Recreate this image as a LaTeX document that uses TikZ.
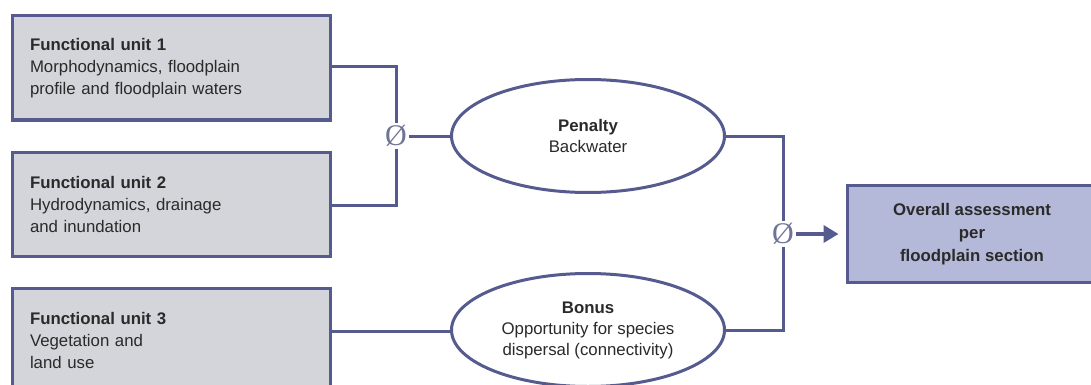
\documentclass[tikz,border=0pt]{standalone}
\usepackage{fontspec}
\setmainfont{Liberation Sans}
\newfontfamily\avgfont{Liberation Serif}
\usetikzlibrary{arrows.meta,shapes.geometric}
\definecolor{edge}{HTML}{555B8E}
\definecolor{boxfill}{HTML}{D4D5DA}
\definecolor{mainfill}{HTML}{B5B9D9}
\definecolor{txt}{HTML}{2A2A2A}
\definecolor{avg}{HTML}{6F7497}
\tikzset{
  unitbox/.style={draw=edge, line width=3pt, fill=boxfill, rectangle, minimum width=318pt, minimum height=104pt, text width=282pt, align=left, inner xsep=18pt, font=\fontsize{16.8}{22}\selectfont, text=txt},
  judge/.style={draw=edge, line width=3pt, fill=white, ellipse, minimum width=273pt, minimum height=113pt, align=center, font=\fontsize{16.8}{21}\selectfont, text=txt},
  mainbox/.style={draw=edge, line width=3pt, fill=mainfill, rectangle, minimum width=250pt, minimum height=97pt, align=center, font=\bfseries\fontsize{16.8}{23}\selectfont, text=txt},
  avgsym/.style={font=\avgfont\fontsize{30}{30}\selectfont, text=avg, inner sep=2pt},
  link/.style={draw=edge, line width=3pt},
}
\begin{document}
\begin{tikzpicture}[x=1pt,y=-1pt]
\useasboundingbox (0,0) rectangle (1091,385);
\clip (0,0) rectangle (1091,385);
\node[unitbox] (u1) at (171,68) {\textbf{Functional unit 1}\\Morphodynamics, floodplain\\profile and floodplain waters};
\node[unitbox] (u2) at (171,204) {\textbf{Functional unit 2}\\Hydrodynamics, drainage\\and inundation};
\node[unitbox] (u3) at (171,340) {\textbf{Functional unit 3}\\Vegetation and\\land use};
\node[judge] (pen) at (588,136) {\textbf{Penalty}\\Backwater};
\node[judge] (bon) at (588,330) {\textbf{Bonus}\\Opportunity for species\\dispersal (connectivity)};
\node[avgsym] (a1) at (396,136) {Ø};
\node[avgsym] (a2) at (783,234) {Ø};
\node[mainbox] (res) at (972,234) {Overall assessment\\per\\floodplain section};
\draw[link] (u1.east |- 0,67) -| (a1.north);
\draw[link] (u2.east |- 0,205) -| (a1.south);
\draw[link] (a1.east) -- (pen.west);
\draw[link] (u3.east |- 0,331) -- (bon.west |- 0,331);
\draw[link] (pen.east) -| (a2.north);
\draw[link] (bon.east) -| (a2.south);
\draw[link, line width=3.6pt, shorten >=7pt, -{Triangle[length=15pt,width=17pt]}] (a2.east) -- (res.west);
\end{tikzpicture}
\end{document}
